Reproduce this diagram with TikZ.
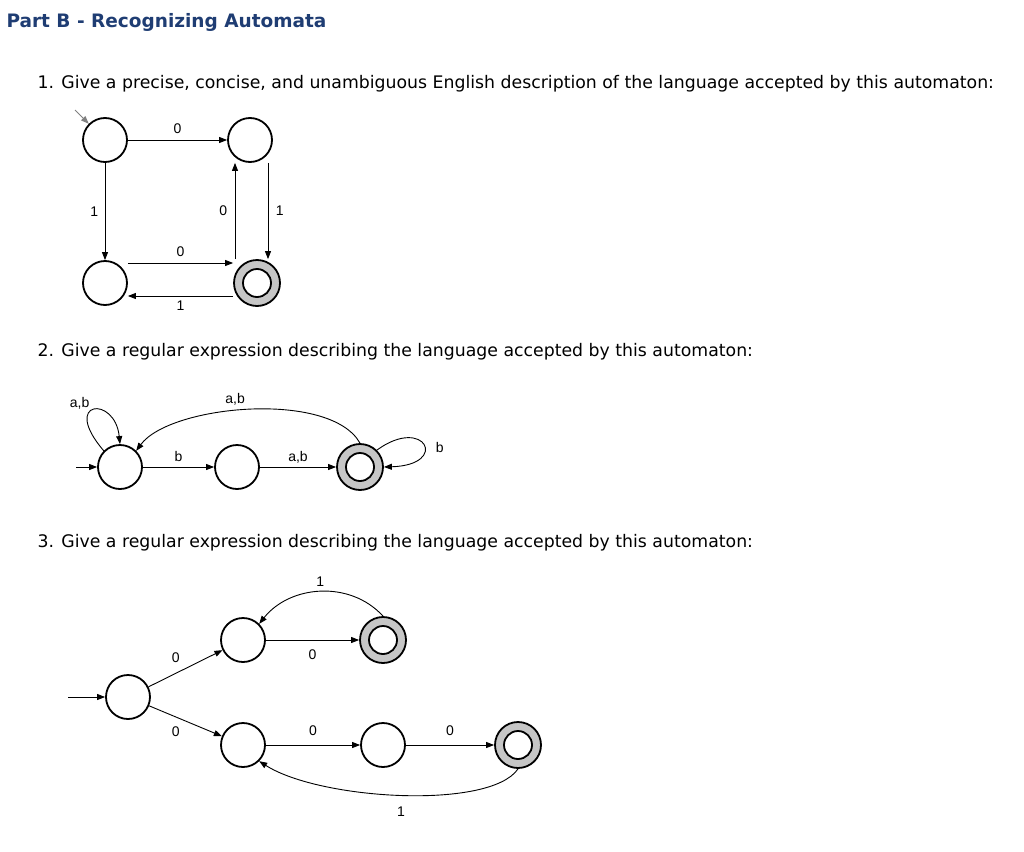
\documentclass[tikz,border=0pt]{standalone}
\usepackage{fontspec}
\setmainfont{DejaVu Sans}
\newfontfamily\lab{Liberation Sans}
\usetikzlibrary{arrows.meta}
\definecolor{ttl}{HTML}{1F3D73}
\begin{document}
\begin{tikzpicture}[x=1pt,y=-1pt,
  st/.style={circle,draw,line width=1.8pt,minimum size=44pt,inner sep=0pt},
  fin/.style={circle,draw,line width=1.8pt,fill=gray!45,minimum size=46pt,inner sep=0pt,
    path picture={\fill[white] (path picture bounding box.center) circle (14pt);
      \draw[line width=1.8pt] (path picture bounding box.center) circle (14pt);}},
  ed/.style={-{Triangle[length=8pt,width=6pt]},line width=0.9pt},
  el/.style={font=\lab\fontsize{14}{14}\selectfont},
  q/.style={anchor=west,font=\fontsize{17.3}{20}\selectfont}]
\useasboundingbox (0,0) rectangle (1024,851);
\node[anchor=west,text=ttl,font=\bfseries\fontsize{18.5}{20}\selectfont] (title) at (3,22) {Part B - Recognizing Automata};
\node[q] (q1) at (34,84) {1. Give a precise, concise, and unambiguous English description of the language accepted by this automaton:};
\node[q] (q2) at (34,352) {2. Give a regular expression describing the language accepted by this automaton:};
\node[q] (q3) at (34,543) {3. Give a regular expression describing the language accepted by this automaton:};
% automaton 1
\node[st] (a0) at (105,140) {};
\node[st] (a1) at (250,140) {};
\node[st] (a2) at (105,283) {};
\node[fin] (a3) at (257,283) {};
\coordinate (s1) at (75,110);
\draw[ed,gray] (s1) -- (a0.north west);
\draw[ed] (a0) -- node[el,above=3pt]{0} (a1);
\draw[ed] (a0) -- node[el,left=3pt]{1} (a2);
\draw[ed] (a3.north -| 235,0) -- node[el,left=4pt]{0} (a1.south -| 235,0);
\draw[ed] (a1.south -| 268,0) -- node[el,right=4pt]{1} (a3.north -| 268,0);
\draw[ed] (a2.east |- 0,263) -- node[el,above=3pt]{0} (a3.west |- 0,263);
\draw[ed] (a3.west |- 0,296) -- node[el,below=1pt]{1} (a2.east |- 0,296);
% automaton 2
\node[st] (b0) at (120,467) {};
\node[st] (b1) at (237,467) {};
\node[fin] (b2) at (360,467) {};
\coordinate (s2) at (76,467);
\draw[ed] (s2) -- (b0);
\draw[ed] (b0) -- node[el,above=2pt]{b} (b1);
\draw[ed] (b1) -- node[el,above=0pt]{a,b} (b2);
\draw[ed] (b0.north west) .. controls (60,400) and (115,395) .. node[el,pos=0.45,above left=-2pt]{a,b} (b0.north);
\draw[ed] (b2.north) .. controls (330,390) and (170,405) .. node[el,pos=0.55,above=2pt]{a,b} (b0.north east);
\draw[ed] (b2.north east) .. controls (425,415) and (450,465) .. node[el,pos=0.55,right=8pt]{b} (b2.east);
% automaton 3
\node[st] (c0) at (128,697) {};
\node[st] (c1) at (243,640) {};
\node[fin] (c2) at (383,640) {};
\node[st] (c3) at (243,745) {};
\node[st] (c4) at (383,745) {};
\node[fin] (c5) at (518,745) {};
\coordinate (s3) at (68,697);
\draw[ed] (s3) -- (c0);
\draw[ed] (c0) -- node[el,above left=2pt]{0} (c1);
\draw[ed] (c0) -- node[el,below left=2pt]{0} (c3);
\draw[ed] (c1) -- node[el,below=6pt]{0} (c2);
\draw[ed] (c2.north) .. controls (350,580) and (290,585) .. node[el,above=2pt]{1} (c1.north east);
\draw[ed] (c3) -- node[el,above=6pt]{0} (c4);
\draw[ed] (c4) -- node[el,above=6pt]{0} (c5);
\draw[ed] (c5.south) .. controls (490,810) and (320,800) .. node[el,below=8pt]{1} (c3.south east);
\end{tikzpicture}
\end{document}
